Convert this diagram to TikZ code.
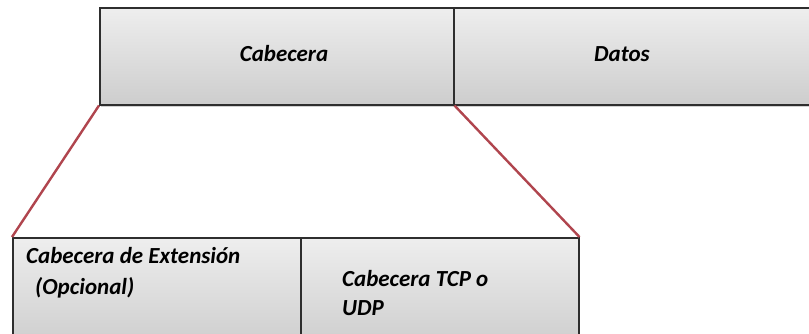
\documentclass[tikz,border=0pt]{standalone}
\usepackage{fontspec}
\setmainfont{Carlito}
\usetikzlibrary{calc}
\definecolor{celltop}{HTML}{EEEEEE}
\definecolor{cellbot}{HTML}{CDCDCD}
\definecolor{cellline}{HTML}{2E2E2E}
\definecolor{zoomline}{HTML}{B0454E}
\tikzset{
  cell/.style={draw=cellline, line width=1.5pt, top color=celltop, bottom color=cellbot,
    minimum height=#1, inner sep=0pt, anchor=north west},
  cell/.default=97pt,
  lbl/.style={font=\fontsize{23}{26}\selectfont\bfseries\itshape, inner sep=0pt},
  zoomlink/.style={draw=zoomline, line width=2.4pt},
  cshadow/.style={fill=black, opacity=0.18}
}
\begin{document}
\begin{tikzpicture}[x=1pt,y=-1pt]
  \clip (0,0) rectangle (809,333);
  \fill[white] (0,0) rectangle (809,333);

  % soft shadow beneath the upper row
  \fill[cshadow] (101,104) rectangle (820,107);

  % upper row: header and payload
  \node[cell, minimum width=354pt] (hdr) at (99,7) {};
  \node[cell, minimum width=370pt] (data) at (453,7) {};
  \node[lbl] (hdrtxt) at (284,54) {Cabecera};
  \node[lbl] (datatxt) at (622,54) {Datos};

  % lower row: expanded header
  \node[cell, minimum width=288pt, minimum height=110pt] (ext) at (12,237) {};
  \node[cell, minimum width=278pt, minimum height=110pt] (tcp) at (300,237) {};
  \node[lbl, anchor=west] (exttxt) at (26,256) {Cabecera de Extensión};
  \node[lbl, anchor=west] (opttxt) at (35,288) {(Opcional)};
  \node[lbl, anchor=west] (tcptxt) at (342,279) {Cabecera TCP o};
  \node[lbl, anchor=west] (udptxt) at (342,308) {UDP};

  % zoom connectors from the header to its expansion
  \draw[zoomlink] (hdr.south west) -- (ext.north west);
  \draw[zoomlink] (hdr.south east) -- (tcp.north east);
\end{tikzpicture}
\end{document}
